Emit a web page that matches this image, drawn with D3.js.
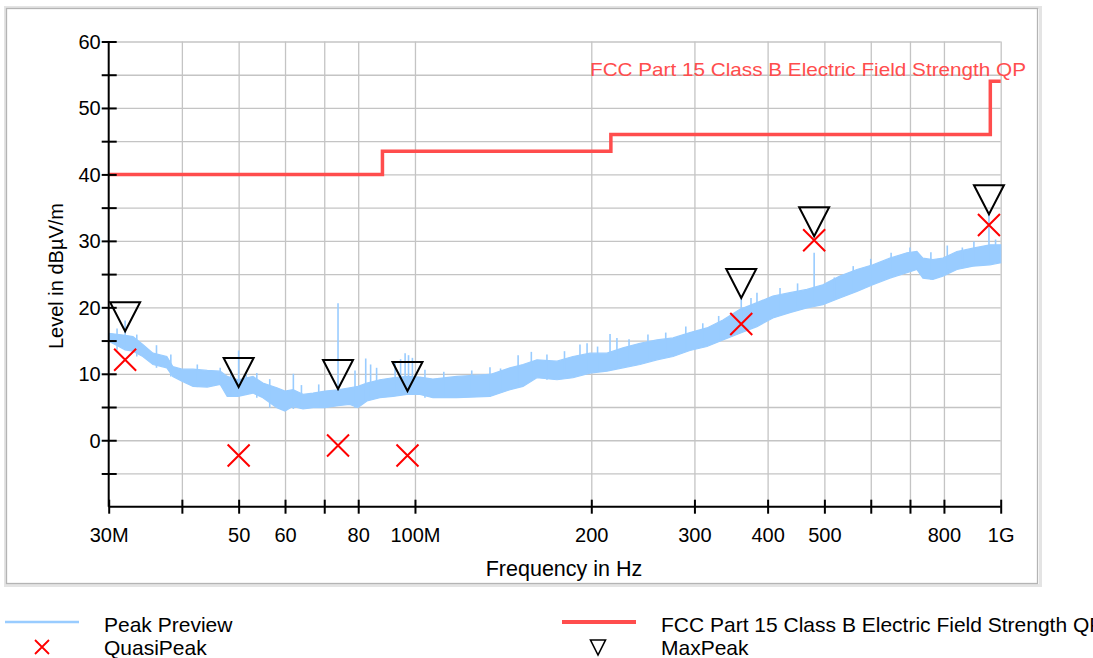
<!DOCTYPE html>
<html><head><meta charset="utf-8">
<script src="https://cdn.jsdelivr.net/npm/d3@7"></script>
<style>
html,body{margin:0;padding:0;background:#fff;}
svg{display:block;font-family:"Liberation Sans",Arial,sans-serif;}
</style></head>
<body>
<svg id="c" width="1093" height="658"></svg>
<script>
// ---- data ----
const bandFreq = [30, 32.0, 33.0, 34.3, 35.7, 37.7, 38.6, 40.0, 41.8, 44.2, 46.5, 47.8, 49.9, 52.9, 55.0, 58.1, 60.0, 61.9, 64.4, 67.0, 70.2, 73.9, 77.4, 79.9, 82.8, 87.1, 91.7, 96.9, 102, 107.3, 117.9, 134.3, 145.3, 152.9, 161.5, 174.8, 186.1, 199, 212.7, 226.5, 242.2, 258.9, 275.8, 294.7, 315.1, 335.6, 358.8, 383.6, 408.4, 436.6, 466.8, 497, 531.4, 568.2, 605, 646.9, 691.7, 719.3, 736.5, 766, 796.7, 841.8, 896.7, 958.3, 1000];
const bandHigh = [16.1, 15.8, 15.6, 14.4, 13.1, 12.6, 11.1, 10.7, 10.7, 10.5, 10.4, 9.6, 9.1, 9.6, 8.6, 7.9, 7.4, 7.6, 6.9, 7.1, 7.4, 7.6, 7.9, 8.1, 8.6, 9.1, 9.4, 9.6, 9.5, 9.2, 9.6, 9.9, 10.9, 11.4, 12.1, 11.9, 12.6, 13.1, 13.1, 13.9, 14.6, 15.1, 15.4, 16.2, 16.9, 18.1, 19.7, 20.7, 21.7, 22.2, 22.7, 23.4, 24.7, 25.7, 26.4, 27.4, 28.2, 28.4, 27.4, 27.2, 27.4, 28.4, 28.9, 29.4, 29.4];
const bandLow = [14.9, 13.6, 13.4, 12.6, 11.4, 10.9, 9.6, 8.9, 8.1, 8.0, 8.4, 6.6, 6.6, 7.1, 6.4, 4.9, 4.4, 5.1, 4.7, 4.9, 4.9, 5.2, 5.4, 4.9, 5.9, 6.4, 6.6, 6.9, 6.9, 6.4, 6.4, 6.6, 7.6, 8.1, 9.4, 9.1, 9.4, 10.1, 10.4, 10.9, 11.4, 12.1, 12.6, 13.5, 14.1, 15.1, 16.1, 17.1, 18.4, 19.2, 19.9, 20.4, 21.4, 22.4, 23.4, 24.4, 25.2, 25.7, 24.4, 24.2, 24.7, 25.7, 26.2, 26.4, 26.7];

const spikeFreq = [31.0, 32.0, 33.5, 36.2, 38.3, 42.5, 46.5, 48.5, 50.0, 51.5, 53.7, 56.5, 62.0, 64.0, 68.5, 73.9, 79.0, 82.4, 84.0, 86.0, 92.5, 94.5, 96.2, 97.5, 99.0, 104, 112, 125, 134.3, 140, 150, 158, 168, 180, 191.3, 196.7, 205, 215.3, 221.2, 232, 249.9, 268, 290, 310, 330, 360.6, 374.7, 383.6, 420, 450, 480.3, 520, 560, 600, 650, 700, 760, 810.6, 860, 900, 954.9, 980];
const spikeLevel = [16.8, 18.0, 15.9, 14.3, 12.9, 11.4, 10.9, 10.6, 13.5, 10.2, 10.1, 9.2, 10.0, 8.3, 8.4, 20.6, 10.5, 12.3, 11.4, 10.9, 11.8, 12.2, 13.1, 12.8, 12.4, 10.6, 10.3, 10.5, 11.0, 10.8, 12.8, 13.3, 12.9, 13.4, 14.4, 14.6, 14.1, 16.0, 15.4, 15.2, 15.9, 16.2, 17.1, 17.6, 18.7, 21.7, 21.4, 22.2, 22.9, 23.6, 28.2, 24.5, 26.2, 27.3, 28.2, 29.0, 28.3, 29.3, 29.0, 29.9, 33.9, 30.2];

const peakFreq = [32.0, 50.0, 73.9, 97.1, 360.6, 480.3, 954.9];
const quasiPeak = [12.1, -2.3, -0.8, -2.3, 17.5, 30.1, 32.4];
const maxPeak = [16.4, 8.0, 7.7, 7.4, 21.4, 30.7, 34.0];

const limitFreq = [30, 88, 88, 216, 216, 960, 960, 1000];
const limitLevel = [40, 40, 43.5, 43.5, 46, 46, 54, 54];
const limitName = "FCC Part 15 Class B Electric Field Strength QP";

const xTicks = [30, 40, 50, 60, 70, 80, 100, 200, 300, 400, 500, 600, 700, 800, 1000];
const xTickLabels = {30: "30M", 50: "50", 60: "60", 80: "80", 100: "100M", 200: "200", 300: "300", 400: "400", 500: "500", 800: "800", 1000: "1G"};
const yTicks = [-5, 0, 5, 10, 15, 20, 25, 30, 35, 40, 45, 50, 55, 60];
const yTickLabels = [0, 10, 20, 30, 40, 50, 60];
const yGrid = [-5, 0, 5, 10, 15, 20, 25, 30, 35, 40, 45, 50, 55, 60];

// ---- drawing ----
const svg = d3.select("#c");
const x = d3.scaleLog().domain([30, 1000]).range([108.7, 1000.7]);
const y = d3.scaleLinear().domain([-10, 60]).range([506.7, 41.5]);
const X0 = 108.7, X1 = 1000.7, Y0 = 506.7, Y1 = 41.5;
const blue = "#99ccff", lim = "#ff4d4d";

// outer frame
svg.append("rect").attr("x", 5.5).attr("y", 7.5).attr("width", 1035).attr("height", 578)
  .attr("fill", "none").attr("stroke", "#e4e4e4").attr("stroke-width", 3);
svg.append("rect").attr("x", 6.5).attr("y", 8.5).attr("width", 1031).attr("height", 575)
  .attr("fill", "none").attr("stroke", "#b4b4b4").attr("stroke-width", 1.3);

// grid
svg.append("g").attr("transform", `translate(0,${Y0})`)
  .call(d3.axisBottom(x).tickValues(xTicks.slice(1)).tickSize(-(Y0 - Y1)).tickFormat(""))
  .call(g => g.select(".domain").remove())
  .call(g => g.selectAll("line").attr("stroke", "#c4c4c4").attr("stroke-width", 1.3));
svg.append("g").attr("transform", `translate(${X0},0)`)
  .call(d3.axisLeft(y).tickValues(yGrid).tickSize(-(X1 - X0)).tickFormat(""))
  .call(g => g.select(".domain").remove())
  .call(g => g.selectAll("line").attr("stroke", "#c4c4c4").attr("stroke-width", 1.3));

// peak preview band
const band = bandFreq.map((f, i) => ({f, hi: bandHigh[i], lo: bandLow[i]}));
svg.append("path").datum(band)
  .attr("d", d3.area().x(d => x(d.f)).y0(d => y(d.lo)).y1(d => y(d.hi)))
  .attr("fill", blue).attr("stroke", blue).attr("stroke-width", 1.2);
const bis = d3.bisector(d => d.f).left;
svg.append("g").selectAll("line").data(spikeFreq.map((f, i) => ({f, v: spikeLevel[i]})))
  .join("line")
  .attr("x1", d => x(d.f)).attr("x2", d => x(d.f))
  .attr("y1", d => y(d.v))
  .attr("y2", d => { const i = Math.min(bis(band, d.f), band.length - 1); return y(band[i].lo); })
  .attr("stroke", blue).attr("stroke-width", 1.6);

// limit line
svg.append("path").datum(limitFreq.map((f, i) => ({f, v: limitLevel[i]})))
  .attr("d", d3.line().x(d => x(d.f)).y(d => y(d.v)))
  .attr("fill", "none").attr("stroke", lim).attr("stroke-width", 3.5);
svg.append("text").attr("x", 590).attr("y", 76).attr("fill", lim)
  .attr("font-size", 19).attr("textLength", 436).attr("lengthAdjust", "spacingAndGlyphs")
  .text(limitName);

// axes
const xAxis = svg.append("g").attr("transform", `translate(0,${Y0})`)
  .call(d3.axisBottom(x).tickValues(xTicks).tickSize(6).tickPadding(0)
    .tickFormat(d => xTickLabels[d] || ""));
xAxis.select(".domain").attr("stroke", "#000").attr("stroke-width", 2).attr("d", `M${X0},0H${X1}`);
xAxis.selectAll(".tick line").attr("y1", -7).attr("y2", 7).attr("stroke", "#000").attr("stroke-width", 2);
xAxis.selectAll(".tick text").attr("y", 35).attr("dy", 0).attr("font-size", 20)
  .attr("font-family", "Liberation Sans, Arial, sans-serif").attr("fill", "#000");

const yAxis = svg.append("g").attr("transform", `translate(${X0},0)`)
  .call(d3.axisLeft(y).tickValues(yTicks).tickSize(6).tickPadding(0)
    .tickFormat(d => yTickLabels.includes(d) ? d : ""));
yAxis.select(".domain").attr("stroke", "#000").attr("stroke-width", 2).attr("d", `M0,${Y0}V${Y1}`);
yAxis.selectAll(".tick line").attr("x1", -7).attr("x2", 8).attr("stroke", "#000").attr("stroke-width", 2);
yAxis.selectAll(".tick text").attr("x", -8).attr("dy", "0.35em").attr("font-size", 20)
  .attr("font-family", "Liberation Sans, Arial, sans-serif").attr("fill", "#000");

// axis titles
svg.append("text").attr("x", 564).attr("y", 576).attr("text-anchor", "middle")
  .attr("font-size", 21.5).attr("fill", "#000").text("Frequency in Hz");
svg.append("text").attr("transform", "translate(63,276) rotate(-90)").attr("text-anchor", "middle")
  .attr("font-size", 20).attr("fill", "#000").text("Level in dBµV/m");

// markers
const tri = (cx, cy, w, h) => `M${cx},${cy}L${cx - w / 2},${cy - h}L${cx + w / 2},${cy - h}Z`;
const cross = (cx, cy, s) => `M${cx - s},${cy - s}L${cx + s},${cy + s}M${cx - s},${cy + s}L${cx + s},${cy - s}`;
svg.append("g").selectAll("path").data(peakFreq.map((f, i) => ({f, v: quasiPeak[i]})))
  .join("path").attr("d", d => cross(x(d.f), y(d.v), 11))
  .attr("stroke", "#ff0000").attr("stroke-width", 2).attr("fill", "none");
svg.append("g").selectAll("path").data(peakFreq.map((f, i) => ({f, v: maxPeak[i]})))
  .join("path").attr("d", d => tri(x(d.f), y(d.v), 30, 29))
  .attr("stroke", "#000").attr("stroke-width", 2).attr("fill", "none").attr("stroke-linejoin", "miter");

// legend
const lg = svg.append("g").attr("font-size", 21).attr("fill", "#000");
lg.append("line").attr("x1", 5).attr("x2", 79).attr("y1", 622).attr("y2", 622).attr("stroke", blue).attr("stroke-width", 2.5);
lg.append("text").attr("x", 104).attr("y", 631.5).text("Peak Preview");
lg.append("path").attr("d", cross(42, 647, 7)).attr("stroke", "#ff0000").attr("stroke-width", 1.8).attr("fill", "none");
lg.append("text").attr("x", 104).attr("y", 654.5).text("QuasiPeak");
lg.append("line").attr("x1", 562).attr("x2", 636).attr("y1", 622).attr("y2", 622).attr("stroke", lim).attr("stroke-width", 4);
lg.append("text").attr("x", 661).attr("y", 631.5).text(limitName);
lg.append("path").attr("d", tri(598, 655, 15, 15)).attr("stroke", "#000").attr("stroke-width", 1.6).attr("fill", "none");
lg.append("text").attr("x", 661).attr("y", 654.5).text("MaxPeak");
</script>
</body></html>
